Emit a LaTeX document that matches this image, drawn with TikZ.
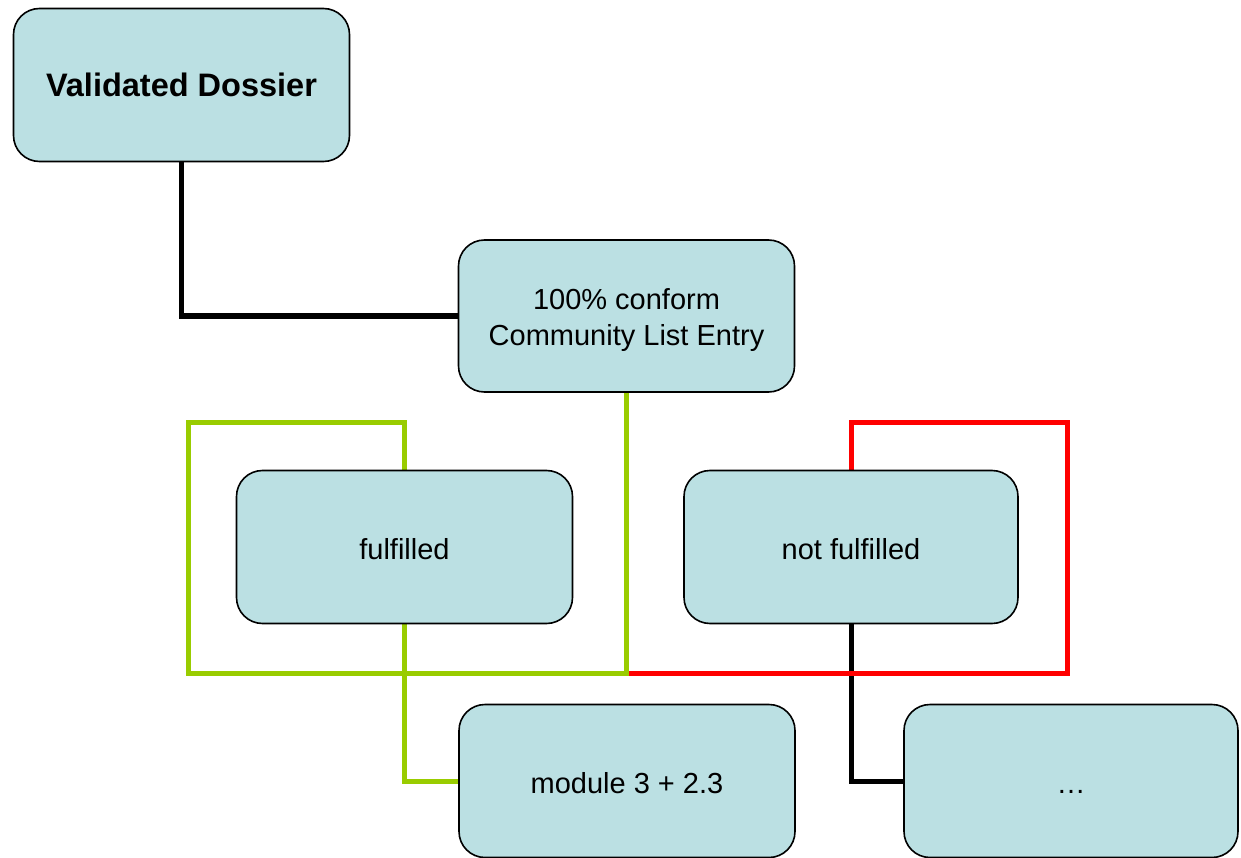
\documentclass[tikz,border=0pt]{standalone}
\usepackage{fontspec}
\setmainfont{Liberation Sans}
\usetikzlibrary{backgrounds}
\definecolor{boxfill}{HTML}{BBE0E3}
\definecolor{lgreen}{HTML}{99CC00}
\definecolor{lred}{HTML}{FF0000}
\tikzset{
  box/.style={draw=black, line width=1.6pt, fill=boxfill, rounded corners=26pt,
    minimum width=336pt, minimum height=153pt, inner sep=0pt, align=center,
    font=\fontsize{29}{36}\selectfont},
  oneline/.style={text height=28pt, text depth=4pt},
  boxtext/.style={inner sep=0pt, align=center, font=\fontsize{29}{36}\selectfont},
  conn/.style={line width=5pt, line join=miter, line cap=rect},
}
\begin{document}
\begin{tikzpicture}[x=1pt,y=-1pt]
\useasboundingbox (0,0) rectangle (1241,858);
\node[box, font=\fontsize{32.5}{38}\selectfont\bfseries] (v) at (181.5,85) {Validated Dossier};
\node[box, minimum height=152pt] (c) at (626.5,316) {};
\node[boxtext] (ctext) at ([yshift=-4pt]c.center) {100\% conform\\Community List Entry};
\node[box, oneline] (f) at (404.5,547) {fulfilled};
\node[box, oneline, minimum width=334pt] (nf) at (851,547) {not fulfilled};
\node[box, oneline] (m) at (627,781) {module 3 + 2.3};
\node[box, oneline, minimum width=334pt] (d) at (1071,781) {…};
\coordinate (gj) at (626.5,673);
\coordinate (gl) at (188,422);
\coordinate (rr) at (1067,422);
\begin{scope}[on background layer]
\draw[conn, black] (v.south) |- (c.west);
\draw[conn, black] (nf.south) |- (d.west);
\draw[conn, lred] (gj) -| (rr) -| (nf.north);
\draw[conn, lgreen] (c.south) -- (gj) -| (gl) -| (f.north);
\draw[conn, lgreen] (f.south) |- (m.west);
\end{scope}
\end{tikzpicture}
\end{document}
